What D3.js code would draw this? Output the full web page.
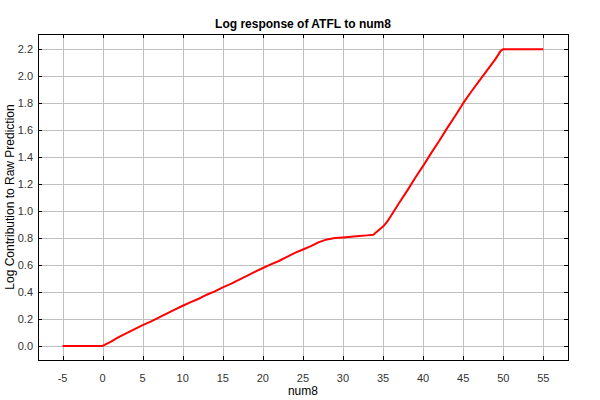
<!DOCTYPE html>
<html>
<head>
<meta charset="utf-8">
<script src="https://cdnjs.cloudflare.com/ajax/libs/d3/7.8.5/d3.min.js"></script>
<style>
  body { margin: 0; background: #fff; }
  text { font-family: "Liberation Sans", Arial, sans-serif; }
</style>
</head>
<body>
<div id="chart"></div>
<script>
var TITLE = "Log response of ATFL to num8";
var X_LABEL = "num8";
var Y_LABEL = "Log Contribution to Raw Prediction";

// values, one per unit of num8
var NUM8 = [-5, -4, -3, -2, -1, 0, 1, 2, 3, 4, 5, 6, 7, 8, 9, 10, 11, 12, 13, 14, 15,
  16, 17, 18, 19, 20, 21, 22, 23, 24, 25, 26, 27, 28, 29, 30, 31, 32, 33, 33.8, 34, 35,
  35.5, 36, 37, 38, 39, 40, 41, 42, 43, 44, 45, 46, 47, 48, 49, 49.7, 50, 51, 52, 53, 54, 55];
var RESPONSE = [0, 0, 0, 0, 0, 0, 0.03, 0.065, 0.095, 0.125, 0.155, 0.18, 0.21, 0.24, 0.27, 0.298,
  0.325, 0.35, 0.38, 0.405, 0.435, 0.46, 0.49, 0.52, 0.55, 0.578, 0.605, 0.63, 0.66, 0.69, 0.715,
  0.74, 0.77, 0.79, 0.80, 0.805, 0.81, 0.815, 0.82, 0.825, 0.835, 0.885,
  0.92, 0.965, 1.06, 1.15, 1.245, 1.335, 1.43, 1.52, 1.615, 1.705, 1.80, 1.885, 1.965, 2.045, 2.125,
  2.19, 2.2, 2.2, 2.2, 2.2, 2.2, 2.2];

var X_TICKS = [-5, 0, 5, 10, 15, 20, 25, 30, 35, 40, 45, 50, 55];
var Y_TICKS = [0, 0.2, 0.4, 0.6, 0.8, 1.0, 1.2, 1.4, 1.6, 1.8, 2.0, 2.2];

var width = 600, height = 400;
var plot = {left: 38, right: 568, top: 34, bottom: 360};

var svg = d3.select("#chart").append("svg")
    .attr("width", width)
    .attr("height", height);

var x = d3.scaleLinear().domain([-8.06, 58.08]).range([plot.left, plot.right]);
var y = d3.scaleLinear().domain([-0.104, 2.313]).range([plot.bottom, plot.top]);

function px(v) { return Math.round(v) + 0.5; }

// grid
var grid = svg.append("g").attr("shape-rendering", "crispEdges");
grid.selectAll(".gx").data(X_TICKS).enter().append("line")
    .attr("x1", function(d) { return px(x(d)); })
    .attr("x2", function(d) { return px(x(d)); })
    .attr("y1", plot.top).attr("y2", plot.bottom)
    .attr("stroke", "#c0c0c0");
grid.selectAll(".gy").data(Y_TICKS).enter().append("line")
    .attr("y1", function(d) { return px(y(d)); })
    .attr("y2", function(d) { return px(y(d)); })
    .attr("x1", plot.left).attr("x2", plot.right)
    .attr("stroke", "#c0c0c0");

// ticks (inside, on all four sides)
var tl = 4;
var ticks = svg.append("g").attr("shape-rendering", "crispEdges").attr("stroke", "#000");
X_TICKS.forEach(function(d) {
    ticks.append("line").attr("x1", px(x(d))).attr("x2", px(x(d)))
        .attr("y1", plot.bottom).attr("y2", plot.bottom - tl);
    ticks.append("line").attr("x1", px(x(d))).attr("x2", px(x(d)))
        .attr("y1", plot.top).attr("y2", plot.top + tl);
});
Y_TICKS.forEach(function(d) {
    ticks.append("line").attr("y1", px(y(d))).attr("y2", px(y(d)))
        .attr("x1", plot.left).attr("x2", plot.left + tl);
    ticks.append("line").attr("y1", px(y(d))).attr("y2", px(y(d)))
        .attr("x1", plot.right).attr("x2", plot.right - tl);
});

// the response curve
var line = d3.line()
    .x(function(d, i) { return x(NUM8[i]); })
    .y(function(d) { return y(d); });
svg.append("path")
    .datum(RESPONSE)
    .attr("d", line)
    .attr("fill", "none")
    .attr("stroke", "#ff0000")
    .attr("stroke-width", 2)
    .attr("stroke-linejoin", "round");

// frame
svg.append("rect")
    .attr("x", plot.left + 0.5).attr("y", plot.top + 0.5)
    .attr("width", plot.right - plot.left).attr("height", plot.bottom - plot.top)
    .attr("fill", "none").attr("stroke", "#000")
    .attr("shape-rendering", "crispEdges");

// tick labels
svg.selectAll(".xl").data(X_TICKS).enter().append("text")
    .attr("x", function(d) { return x(d); })
    .attr("y", 382)
    .attr("text-anchor", "middle")
    .style("font-size", "11px")
    .attr("fill", "#333")
    .text(function(d) { return d; });
svg.selectAll(".yl").data(Y_TICKS).enter().append("text")
    .attr("x", 33)
    .attr("y", function(d) { return y(d) + 4; })
    .attr("text-anchor", "end")
    .style("font-size", "11px")
    .attr("fill", "#333")
    .text(function(d) { return d3.format(".1f")(d); });

// titles
svg.append("text").attr("x", 303).attr("y", 28)
    .attr("text-anchor", "middle")
    .style("font-size", "12px").style("font-weight", "bold")
    .text(TITLE);
svg.append("text").attr("x", x(25)).attr("y", 395)
    .attr("text-anchor", "middle")
    .style("font-size", "12px")
    .text(X_LABEL);
svg.append("text")
    .attr("transform", "translate(14," + ((plot.top + plot.bottom) / 2) + ") rotate(-90)")
    .attr("text-anchor", "middle")
    .style("font-size", "12px")
    .text(Y_LABEL);
</script>
</body>
</html>
